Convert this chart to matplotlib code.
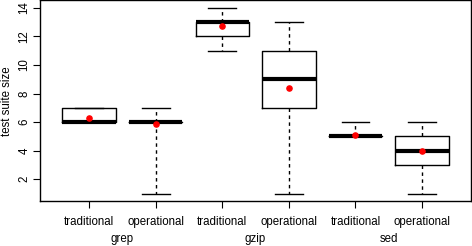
import matplotlib
matplotlib.use("Agg")
import matplotlib.pyplot as plt
import matplotlib.transforms as mtransforms

plt.rcParams["font.family"] = ["Liberation Sans", "DejaVu Sans"]

# Summary statistics
tools = ["grep", "gzip", "sed"]
kinds = ["traditional", "operational"]
whislo = [6, 1, 11, 1, 5, 1]
q1 = [6, 6, 12, 7, 5, 3]
med = [6, 6, 13, 9, 5, 4]
q3 = [7, 6, 13, 11, 5, 5]
whishi = [7, 7, 14, 13, 6, 6]
means = [6.3, 5.9, 12.75, 8.4, 5.1, 4.0]

positions = list(range(1, len(med) + 1))
stats = [
    dict(whislo=a, q1=b, med=c, q3=d, whishi=e, fliers=[])
    for a, b, c, d, e in zip(whislo, q1, med, q3, whishi)
]

fig = plt.figure(figsize=(4.72, 2.46), dpi=100)
ax = fig.add_axes([0.085, 0.183, 0.913, 0.815])

ax.bxp(
    stats, positions=positions, widths=0.8, showfliers=False,
    boxprops=dict(color="black", linewidth=1.0),
    medianprops=dict(color="black", linewidth=3.0, solid_capstyle="butt"),
    whiskerprops=dict(color="black", linewidth=1.0, linestyle=(0, (2.5, 2.5))),
    capprops=dict(color="black", linewidth=1.0),
    capwidths=0.42,
)
ax.scatter(positions, means, s=14, color="red", zorder=5)

ax.set_xlim(0.265, 6.735)
ax.set_ylim(0.48, 14.52)
ax.set_yticks([2, 4, 6, 8, 10, 12, 14])
ax.set_xticks(positions)
ax.set_xticklabels([k for _ in tools for k in kinds])
ax.tick_params(axis="y", labelrotation=90, length=5, labelsize=8.3, pad=2)
ax.tick_params(axis="x", length=5, labelsize=8.3, pad=6)
for lbl in ax.get_yticklabels():
    lbl.set_verticalalignment("center")
ax.set_ylabel("test suite size", fontsize=8.3, labelpad=4)

# group labels under each pair of boxes
trans = mtransforms.blended_transform_factory(ax.transData, fig.transFigure)
for i, name in enumerate(tools):
    ax.text(2 * i + 1.5, 0.017, name, transform=trans, ha="center",
            va="baseline", fontsize=8.3)

for s in ax.spines.values():
    s.set_linewidth(1.0)

fig.savefig("out.png", dpi=100)
